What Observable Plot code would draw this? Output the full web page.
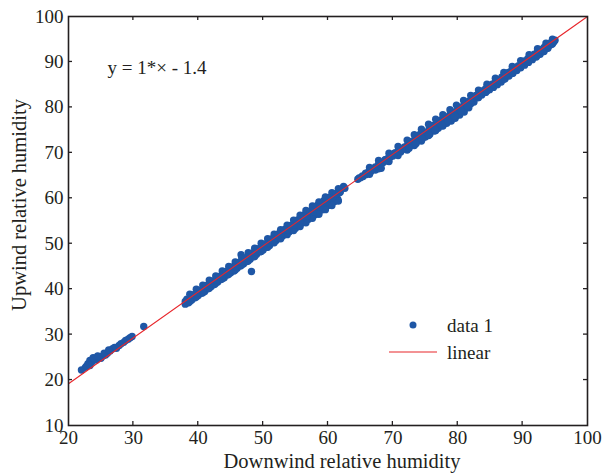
<!DOCTYPE html>
<html>
<head>
<meta charset="utf-8">
<script src="https://cdn.jsdelivr.net/npm/d3@7"></script>
<script src="https://cdn.jsdelivr.net/npm/@observablehq/plot@0.6"></script>
<style>
  html, body { margin: 0; padding: 0; background: #fff; }
  #chart { width: 608px; height: 474px; }
</style>
</head>
<body>
<div id="chart"></div>
<script>
// Downwind (x) vs upwind (y) relative humidity
const dataX = [
  22.0,22.6,23.0,23.3,23.6,24.0,24.3,24.7,25.0,25.3,25.7,26.0,26.4,26.8,27.1,27.4,27.8,28.1,28.5,28.8,29.2,29.5,29.8,31.6,
  23.8,24.5,25.5,26.2,22.8,23.3,
  38.0,38.0,38.4,38.5,38.9,39.0,39.4,39.5,39.9,40.0,40.4,40.5,40.9,41.0,41.4,41.5,41.9,42.0,42.4,42.5,42.9,43.0,43.4,43.5,
  43.9,44.0,44.4,44.5,44.9,45.0,45.4,45.5,45.9,46.0,46.4,46.5,46.6,48.2,46.9,47.0,47.4,47.5,47.9,48.0,48.4,48.5,48.9,49.0,
  49.4,49.5,49.9,50.0,50.4,50.5,50.9,51.0,51.4,51.5,51.9,52.0,52.4,52.5,52.9,53.0,53.4,53.5,53.9,54.0,54.4,54.5,54.9,55.0,
  55.4,55.5,55.9,56.0,56.2,56.4,56.5,56.7,56.9,57.0,57.2,57.4,57.5,57.7,57.9,58.0,58.2,58.4,58.5,58.7,58.9,59.0,59.2,59.4,
  59.5,59.7,59.9,60.0,60.2,60.4,60.5,60.7,60.9,61.0,61.2,61.4,61.5,61.9,62.4,62.6,
  38.7,39.7,40.7,41.7,42.7,43.7,44.7,45.7,46.7,47.7,48.7,49.7,50.7,51.7,52.7,53.7,54.7,55.7,56.6,57.6,58.6,59.6,60.6,61.6,
  38.7,39.7,40.7,41.7,42.7,43.7,44.7,45.7,46.7,47.7,48.7,49.7,50.7,51.7,52.7,53.7,54.7,55.7,56.6,57.6,58.6,59.6,60.6,61.6,
  38.25,38.75,39.25,39.75,40.25,40.75,41.25,41.75,42.25,42.75,43.25,43.75,44.25,44.75,45.25,45.75,46.25,46.75,47.25,47.75,
  48.25,48.75,49.25,49.75,50.25,50.75,51.25,51.75,52.25,52.75,53.25,53.75,54.25,54.75,55.25,55.75,56.25,56.75,57.25,57.75,
  58.25,58.75,59.25,59.75,60.25,60.75,61.25,61.75,
  64.6,65.0,65.4,65.8,66.2,66.6,67.0,67.3,67.6,68.0,68.2,68.5,68.9,69.2,69.6,70.0,70.3,70.6,71.0,71.2,71.5,71.8,72.0,72.3,
  72.6,72.8,73.1,73.4,73.6,73.9,74.2,74.3,74.6,74.9,75.0,75.3,75.6,75.7,76.0,76.2,76.4,76.7,76.9,77.0,77.3,77.5,77.7,78.0,
  78.2,78.3,78.6,78.8,79.0,79.3,79.5,79.6,79.9,80.1,80.3,80.6,80.8,81.0,81.3,81.5,81.7,82.0,82.2,82.5,82.8,83.1,83.4,83.7,
  84.0,84.3,84.6,84.9,85.2,85.5,85.8,86.1,86.4,86.7,87.0,87.3,87.6,87.9,88.2,88.5,88.8,89.1,89.4,89.7,90.0,90.3,90.6,90.9,
  91.2,91.5,91.8,92.1,92.4,92.7,93.0,93.3,93.6,93.9,94.2,94.5,94.8,95.0,
  66.4,67.8,69.4,70.8,72.2,73.3,74.4,75.5,76.6,77.7,78.8,79.8,80.9,82.0,83.2,84.5,85.8,87.1,88.4,89.7,91.0,92.3,93.6,94.6,
  66.4,67.8,69.4,70.8,72.2,73.3,74.4,75.5,76.6,77.7,78.8,79.8,80.9,82.0,83.2,84.5,85.8,87.1,88.4,89.7,91.0,92.3,93.6,94.6,
  64.8,65.3,65.8,66.3,66.8,67.3,67.8,68.3,68.8,69.3,69.8,70.3,70.8,71.3,71.8,72.3,72.8,73.3,73.8,74.3,74.8,75.3,75.8,76.3,
  76.8,77.3,77.8,78.3,78.8,79.3,79.8,80.3,80.8,81.3,81.8,82.3,82.8,83.3,83.8,84.3,84.8,85.3,85.8,86.3,86.8,87.3,87.8,88.3,
  88.8,89.3,89.8,90.3,90.8,91.3,91.8,92.3,92.8,93.3,93.8,94.3,94.8,
  72.5,73.5,74.5,75.5,76.5,77.5,78.5,79.5,80.5,81.5
];
const dataY = [
  22.2,22.8,23.6,24.3,24.0,24.6,24.4,25.0,24.8,25.3,25.5,25.9,26.4,26.9,27.2,27.0,27.6,28.0,28.3,28.7,29.0,29.3,29.6,31.8,
  24.9,25.3,25.9,26.6,23.1,23.2,
  37.3,36.7,37.6,37.0,38.2,37.6,38.5,38.1,39.2,38.6,39.6,39.1,40.2,39.5,40.5,40.1,41.3,40.6,41.6,41.0,42.1,41.6,42.7,42.1,
  43.0,42.5,43.7,43.1,44.1,43.6,44.5,44.0,45.1,44.6,45.6,45.1,47.6,43.9,46.3,45.6,46.6,46.1,47.2,46.6,47.9,47.1,48.2,47.7,
  48.8,48.2,49.4,48.6,49.9,49.2,50.5,49.6,51.1,50.3,51.5,50.7,52.2,51.3,52.6,51.7,53.2,52.2,53.6,52.6,54.1,53.1,54.6,53.4,
  55.3,53.9,56.1,54.6,55.3,56.4,55.0,55.7,56.9,55.4,56.3,57.3,56.0,56.6,58.1,56.4,57.2,58.5,56.9,57.8,58.9,57.4,58.1,59.5,
  57.9,58.6,59.9,58.4,59.2,60.3,58.9,59.6,60.6,59.3,60.1,61.0,59.8,61.4,62.6,62.2,
  38.9,40.0,40.9,42.0,42.9,44.0,45.0,46.0,46.9,48.0,49.0,50.1,51.1,52.1,53.1,54.1,55.2,56.3,57.3,58.3,59.2,60.3,61.2,62.1,
  37.3,38.3,39.2,40.2,41.3,42.3,43.3,44.2,45.3,46.2,47.2,48.3,49.2,50.2,51.1,52.0,52.9,53.8,54.6,55.6,56.5,57.5,58.4,59.4,
  37.8,38.0,38.8,39.0,39.8,40.0,40.8,41.0,41.8,42.0,42.8,43.0,43.9,44.0,44.9,45.0,45.9,46.0,46.9,47.1,
  47.9,48.1,48.9,49.1,49.9,50.1,50.9,51.1,52.0,52.1,53.0,53.1,54.0,54.1,55.0,55.1,56.0,56.1,57.0,57.1,
  58.0,58.1,59.0,59.2,60.0,60.2,61.0,61.2,
  64.2,64.5,64.8,65.2,65.5,65.9,66.5,66.2,66.9,67.6,66.6,67.9,68.5,68.2,69.1,69.3,70.0,69.8,70.6,70.2,70.8,71.3,70.9,71.8,
  72.5,71.6,72.4,73.0,72.1,73.2,74.1,72.9,73.8,74.5,73.5,74.6,75.3,74.1,75.2,76.0,74.8,75.9,76.8,75.4,76.4,77.3,75.9,77.0,
  77.9,76.5,77.5,78.4,77.0,78.2,79.0,77.6,78.7,79.5,78.3,79.4,80.2,79.0,80.2,80.9,79.9,80.9,81.6,81.2,82.2,82.1,82.8,82.7,
  83.6,83.3,84.1,83.9,84.6,84.4,85.3,85.0,85.8,85.6,86.5,86.3,87.1,86.9,87.6,87.5,88.3,88.1,88.9,88.7,89.5,89.3,90.1,89.9,
  90.7,90.5,91.2,91.1,91.9,91.7,92.5,92.3,93.1,93.0,93.7,93.9,94.4,94.8,
  66.8,68.3,69.9,71.4,72.8,74.0,75.2,76.3,77.4,78.4,79.5,80.5,81.5,82.6,83.8,85.1,86.4,87.7,89.0,90.3,91.6,92.9,94.1,95.0,
  65.3,66.5,68.1,69.4,70.6,71.6,72.6,73.8,74.9,76.0,77.1,78.2,79.5,80.8,82.2,83.6,84.9,86.2,87.5,88.9,90.2,91.5,92.9,94.0,
  64.5,64.9,65.5,65.9,66.5,66.9,67.5,67.9,68.5,68.9,69.5,69.9,70.3,70.6,71.1,71.5,72.0,72.5,73.0,73.5,74.0,74.5,75.0,75.5,
  76.0,76.5,77.0,77.5,78.0,78.6,79.1,79.7,80.2,80.8,81.4,82.1,82.6,83.1,83.6,84.1,84.6,85.1,85.7,86.1,86.7,87.1,87.7,88.1,
  88.7,89.1,89.7,90.2,90.7,91.2,91.7,92.2,92.7,93.2,93.7,94.2,94.7,
  71.0,72.0,73.0,74.0,75.0,76.1,77.0,78.1,79.2,80.3
];
// fitted line endpoints (x) and its parameters as drawn
const fitX = [20, 100];
const fitSlope = 1.01;
const fitIntercept = -1.0;
const xTicks = [20, 30, 40, 50, 60, 70, 80, 90, 100];
const yTicks = [10, 20, 30, 40, 50, 60, 70, 80, 90, 100];
const xLabel = "Downwind relative humidity";
const yLabel = "Upwind relative humidity";
const equationText = "y = 1*× - 1.4";
const legendLabels = ["data 1", "linear"];

const points = dataX.map((x, i) => ({x, y: dataY[i]}));
const fit = fitX.map(x => ({x, y: fitSlope * x + fitIntercept}));

const DOT = "#1f57a6";
const RED = "#e8262b";
const INK = "#231f20";
const FONT = "'Liberation Serif', 'DejaVu Serif', serif";

const plot = Plot.plot({
  width: 608,
  height: 474,
  marginLeft: 68,
  marginRight: 21,
  marginTop: 16,
  marginBottom: 49,
  style: {fontFamily: FONT, fontSize: "19px", color: INK, background: "#fff", overflow: "visible"},
  x: {domain: [20, 100]},
  y: {domain: [10, 100]},
  marks: [
    Plot.dot(points, {x: "x", y: "y", r: 3.7, fill: DOT, stroke: "none"}),
    Plot.line(fit, {x: "x", y: "y", stroke: RED, strokeWidth: 1.1}),
    Plot.frame({stroke: INK, strokeWidth: 1.6}),
    Plot.axisX({ticks: xTicks, tickSize: 0, tickPadding: 5, fontSize: 19, tickFormat: d => d, label: null}),
    Plot.axisY({ticks: yTicks, tickSize: 0, tickPadding: 5, fontSize: 19, tickFormat: d => d, label: null}),
    Plot.text([equationText], {frameAnchor: "top-left", dx: 39, dy: 51, textAnchor: "start", lineAnchor: "middle", fontSize: 19, fill: INK})
  ]
});

document.getElementById("chart").appendChild(plot);

// inward ticks on all four sides, placed with the plot's own scales
const svg = d3.select(plot);
const sx = plot.scale("x"), sy = plot.scale("y");
const x0 = sx.apply(20), x1 = sx.apply(100), y0 = sy.apply(10), y1 = sy.apply(100);
const tg = svg.append("g").attr("stroke", INK).attr("stroke-width", 1.3);
const TL = 4;
xTicks.slice(1, -1).forEach(t => {
  const px = sx.apply(t);
  tg.append("line").attr("x1", px).attr("x2", px).attr("y1", y0).attr("y2", y0 - TL);
  tg.append("line").attr("x1", px).attr("x2", px).attr("y1", y1).attr("y2", y1 + TL);
});
yTicks.slice(1, -1).forEach(t => {
  const py = sy.apply(t);
  tg.append("line").attr("y1", py).attr("y2", py).attr("x1", x0).attr("x2", x0 + TL);
  tg.append("line").attr("y1", py).attr("y2", py).attr("x1", x1).attr("x2", x1 - TL);
});

// axis titles
const at = svg.append("g").attr("font-family", FONT).attr("font-size", 20.5).attr("fill", INK).attr("text-anchor", "middle");
at.append("text").attr("x", 342).attr("y", 468).text(xLabel);
at.append("text").attr("transform", "translate(26,205) rotate(-90)").text(yLabel);

// legend
const lg = svg.append("g").attr("font-family", FONT).attr("font-size", 19).attr("fill", INK).attr("text-anchor", "start");
lg.append("circle").attr("cx", 413).attr("cy", 325).attr("r", 3.5).attr("fill", DOT);
lg.append("text").attr("x", 447).attr("y", 325).attr("dy", "0.35em").text(legendLabels[0]);
lg.append("line").attr("x1", 389).attr("x2", 437).attr("y1", 352).attr("y2", 352).attr("stroke", RED).attr("stroke-width", 1.1);
lg.append("text").attr("x", 447).attr("y", 352).attr("dy", "0.35em").text(legendLabels[1]);
</script>
</body>
</html>
